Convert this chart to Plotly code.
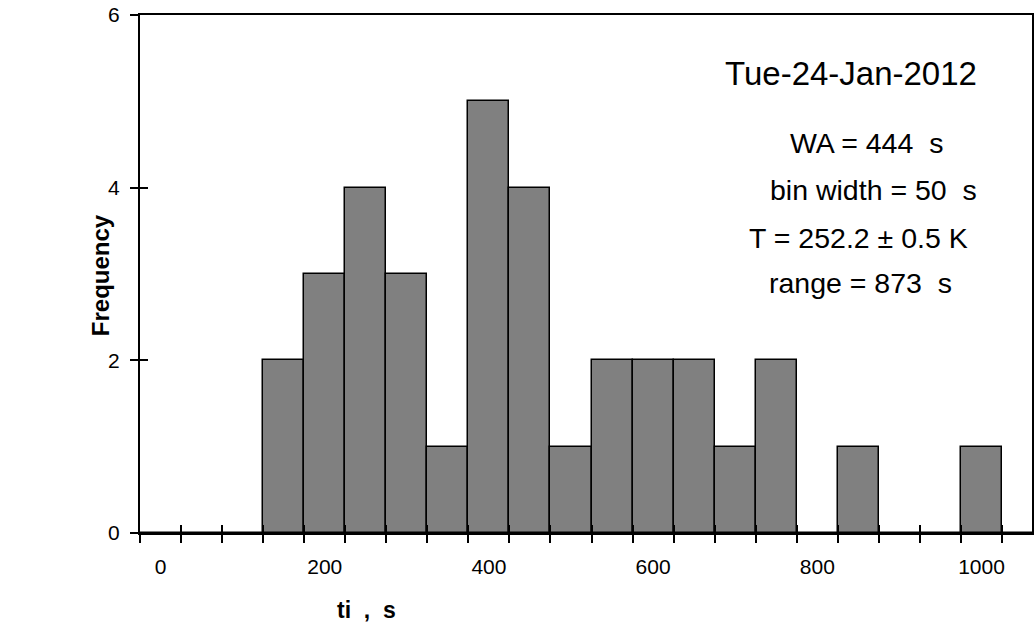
import plotly.graph_objects as go

# Bin centres (s) and frequencies
bin_centers = [0, 50, 100, 150, 200, 250, 300, 350, 400, 450, 500, 550,
               600, 650, 700, 750, 800, 850, 900, 950, 1000, 1050]
frequency = [0, 0, 0, 2, 3, 4, 3, 1, 5, 4, 1, 2,
             2, 2, 1, 2, 0, 1, 0, 0, 1, 0]
bin_width = 50
x_tick_vals = [0, 200, 400, 600, 800, 1000]
y_tick_vals = [0, 2, 4, 6]
bin_edges = [c - bin_width / 2 for c in bin_centers] + [bin_centers[-1] + bin_width / 2]

info_lines = ["Tue-24-Jan-2012", "WA = 444  s", "bin width = 50  s",
              "T = 252.2 \u00b1 0.5 K", "range = 873  s"]

FONT = "Liberation Sans, Arial, sans-serif"
x_range = [-25, 1061.5]

fig = go.Figure()
fig.add_trace(go.Bar(
    x=bin_centers, y=frequency, width=bin_width,
    marker=dict(color="#808080", line=dict(color="black", width=1.5)),
    showlegend=False, hoverinfo="x+y",
))
# invisible trace on overlay axes (for crossing tick marks)
fig.add_trace(go.Scatter(x=[bin_centers[0]], y=[0], xaxis="x2", yaxis="y2",
                         mode="markers", marker=dict(opacity=0), showlegend=False,
                         hoverinfo="skip"))

fig.update_layout(
    width=1034, height=628,
    margin=dict(l=140, r=0, t=15, b=95),
    paper_bgcolor="white", plot_bgcolor="white",
    bargap=0,
    font=dict(family=FONT, color="black", size=20),
    xaxis=dict(
        range=x_range, tickvals=x_tick_vals, ticks="", showgrid=False, zeroline=False,
        showline=True, linecolor="black", linewidth=2, mirror=True,
        tickfont=dict(size=21), ticklabelstandoff=14,
        minor=dict(tickvals=bin_edges, ticks="outside", ticklen=8, tickwidth=1.5,
                   tickcolor="black", showgrid=False),
    ),
    yaxis=dict(
        range=[0, 6], tickvals=y_tick_vals, ticks="outside", ticklen=8, tickwidth=1.5,
        tickcolor="black", showgrid=False, zeroline=False,
        showline=True, linecolor="black", linewidth=2, mirror=True,
        tickfont=dict(size=21), ticklabelstandoff=6,
    ),
    xaxis2=dict(
        overlaying="x", matches="x", range=x_range, tickvals=bin_edges, ticks="inside",
        ticklen=8, tickwidth=1.5, tickcolor="black", showticklabels=False,
        showgrid=False, zeroline=False, showline=False,
    ),
    yaxis2=dict(
        overlaying="y", range=[0, 6], tickvals=y_tick_vals, ticks="inside",
        ticklen=8, tickwidth=1.5, tickcolor="black", showticklabels=False,
        showgrid=False, zeroline=False, showline=False,
    ),
)

ann_pos = [(0.7975, 0.888, 33), (0.8143, 0.753, 28.5), (0.822, 0.662, 28.5),
           (0.805, 0.5695, 28.5), (0.8076, 0.4826, 28.5)]
for text, (ax, ay, sz) in zip(info_lines, ann_pos):
    fig.add_annotation(text=text, xref="paper", yref="paper", x=ax, y=ay,
                       xanchor="center", yanchor="middle", showarrow=False,
                       font=dict(size=sz, family=FONT, color="black"))

fig.add_annotation(text="<b>Frequency</b>", xref="paper", yref="paper",
                   x=-0.0447, y=0.498, textangle=-90, showarrow=False,
                   xanchor="center", yanchor="middle",
                   font=dict(size=24, family=FONT, color="black"))
fig.add_annotation(text="<b>ti  ,  s</b>", xref="paper", yref="paper",
                   x=0.254, y=-0.1486, showarrow=False,
                   xanchor="center", yanchor="middle",
                   font=dict(size=23, family=FONT, color="black"))

fig.write_html("out.html")
